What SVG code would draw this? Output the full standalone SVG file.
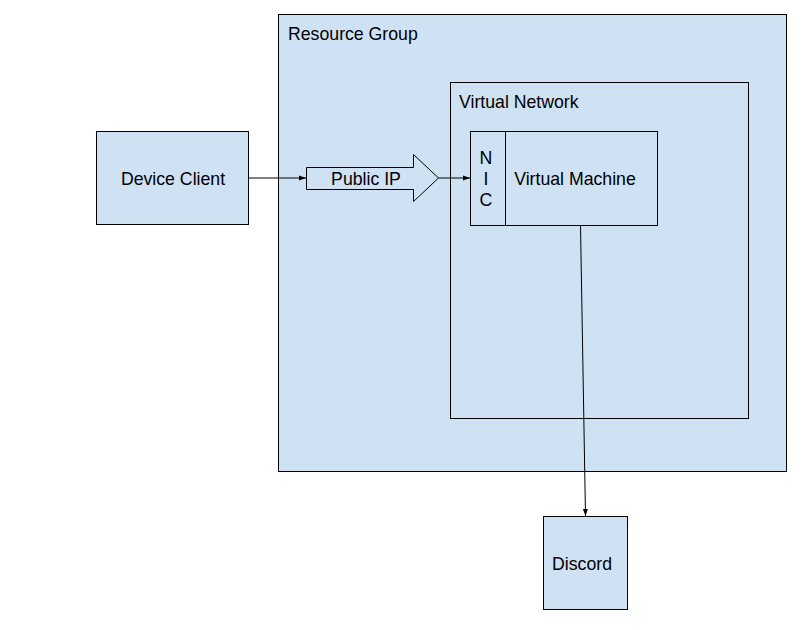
<svg xmlns="http://www.w3.org/2000/svg" width="812" height="630" viewBox="0 0 812 630">
<style>
.box{fill:#cfe2f3;stroke:#000;stroke-width:1}
.t{font-family:"Liberation Sans",Arial,sans-serif;font-size:17.7px;fill:#000}
.c{text-anchor:middle}
.ln{stroke:#000;stroke-width:1;fill:none}
</style>
<defs>
<marker id="ah" markerWidth="8" markerHeight="8" refX="7" refY="4" orient="auto" markerUnits="userSpaceOnUse">
<path d="M0,1.5 L7,4 L0,6.5 Z" fill="#000"/>
</marker>
</defs>
<rect width="812" height="630" fill="#fff"/>
<g id="resource-group">
<rect class="box" x="278.5" y="14.5" width="508" height="457"/>
<text class="t" x="288" y="40">Resource Group</text>
</g>
<g id="virtual-network">
<rect class="box" x="450.5" y="82.5" width="298" height="336"/>
<text class="t" x="459" y="108">Virtual Network</text>
</g>
<g id="virtual-machine">
<rect class="box" x="470.5" y="131.5" width="187" height="94"/>
<line class="ln" x1="505.5" y1="131.5" x2="505.5" y2="225.5"/>
<text class="t c" x="486" y="164">N</text>
<text class="t c" x="486" y="185">I</text>
<text class="t c" x="486" y="206">C</text>
<text class="t c" x="575" y="185">Virtual Machine</text>
</g>
<g id="device-client">
<rect class="box" x="96.5" y="131.5" width="152" height="93"/>
<text class="t c" x="173" y="185">Device Client</text>
</g>
<g id="public-ip">
<path class="box" d="M306.5,167.5 L413.5,167.5 L413.5,154.5 L438.5,178 L413.5,201.5 L413.5,189.5 L306.5,189.5 Z"/>
<text class="t c" x="366" y="185">Public IP</text>
</g>
<g id="discord">
<rect class="box" x="543.5" y="516.5" width="84" height="93"/>
<text class="t c" x="582" y="570">Discord</text>
</g>
<g id="connectors">
<line class="ln" x1="248.5" y1="178" x2="306" y2="178" marker-end="url(#ah)"/>
<line class="ln" x1="438.5" y1="178" x2="470" y2="178" marker-end="url(#ah)"/>
<line class="ln" x1="580.5" y1="225.5" x2="585.5" y2="516" marker-end="url(#ah)"/>
</g>
</svg>
